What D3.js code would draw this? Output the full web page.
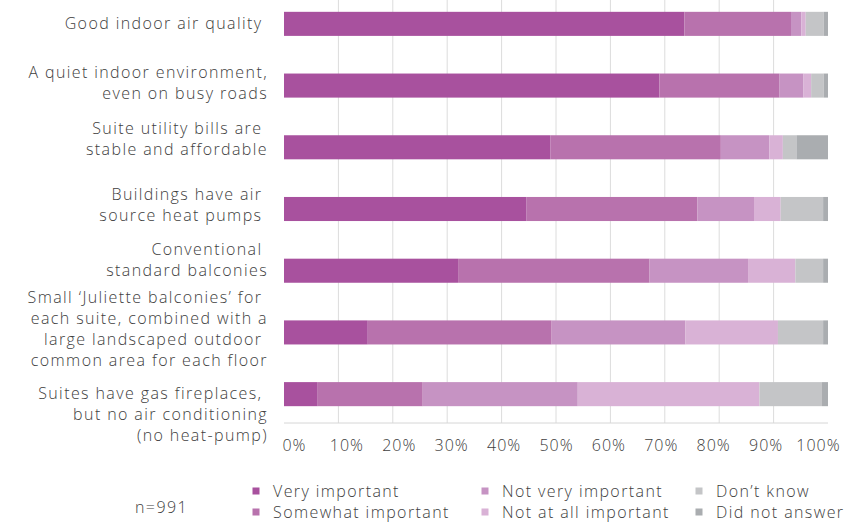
<!DOCTYPE html>
<html>
<head>
<meta charset="utf-8">
<script src="https://cdn.jsdelivr.net/npm/d3@7"></script>
<style>
  html, body { margin: 0; padding: 0; background: #ffffff; }
  svg { display: block; }
  text { font-family: "Open Sans", "DejaVu Sans", sans-serif; fill: #404040; font-weight: 300; letter-spacing: 1.4px; }
</style>
</head>
<body>
<svg id="chart" width="852" height="524"></svg>
<script>
// ---------- data ----------
const categories = [
  "Good indoor air quality",
  "A quiet indoor environment, even on busy roads",
  "Suite utility bills are stable and affordable",
  "Buildings have air source heat pumps",
  "Conventional standard balconies",
  "Small 'Juliette balconies' for each suite, combined with a large landscaped outdoor common area for each floor",
  "Suites have gas fireplaces, but no air conditioning (no heat-pump)"
];
const categoryLines = [
  ["Good indoor air quality "],
  ["A quiet indoor environment,", "even on busy roads"],
  ["Suite utility bills are ", "stable and affordable"],
  ["Buildings have air ", "source heat pumps "],
  ["Conventional ", "standard balconies"],
  ["Small \u2018Juliette balconies\u2019 for ", "each suite, combined with a", "large landscaped outdoor ", "common area for each floor"],
  ["Suites have gas fireplaces, ", "but no air conditioning", "(no heat-pump)"]
];
const seriesNames = ["Very important", "Somewhat important", "Not very important",
                     "Not at all important", "Don\u2019t know", "Did not answer"];
const veryImportant      = [73.6, 69.0, 49.0, 44.6, 32.0, 15.4,  6.2];
const somewhatImportant  = [19.6, 22.1, 31.3, 31.4, 35.2, 33.8, 19.3];
const notVeryImportant   = [ 1.9,  4.4,  8.9, 10.4, 18.1, 24.6, 28.5];
const notAtAllImportant  = [ 0.8,  1.4,  2.5,  4.9,  8.7, 17.0, 33.4];
const dontKnow           = [ 3.3,  2.3,  2.5,  7.8,  5.1,  8.3, 11.5];
const didNotAnswer       = [ 0.8,  0.8,  5.8,  0.9,  0.9,  0.9,  1.1];
const tickValues = [0, 10, 20, 30, 40, 50, 60, 70, 80, 90, 100];
const sampleNote = "n=991";

// ---------- styles / layout ----------
const colors = ["#a8519e", "#b872ad", "#c693c3", "#d9b2d6", "#c4c5c7", "#aaadb0"];
const labelNudge = [0, -2.5, -8.5, -4, -11, -4, 20]; // vertical offset of label block vs bar centre
const lineHeight = 21;

const seriesValues = [veryImportant, somewhatImportant, notVeryImportant,
                      notAtAllImportant, dontKnow, didNotAnswer];
const table = categories.map((c, i) => {
  const row = { category: c, idx: i };
  seriesNames.forEach((s, j) => row[s] = seriesValues[j][i]);
  return row;
});

const svg = d3.select("#chart");

const x = d3.scaleLinear().domain([0, 100]).range([284, 828]);
const xLabel = d3.scaleLinear().domain([0, 100]).range([294, 818]);
const y = d3.scaleBand().domain(categories).range([-7, 425])
  .paddingInner(0.61).paddingOuter(0.305);
const axisY = 423;

// gridlines
svg.append("g")
  .selectAll("line")
  .data(tickValues.filter(t => t > 0 && t < 100))
  .join("line")
  .attr("x1", d => x(d)).attr("x2", d => x(d))
  .attr("y1", 0).attr("y2", axisY)
  .attr("stroke", "#dcdcdc").attr("stroke-width", 1);

// axis baseline
svg.append("line")
  .attr("x1", x(0)).attr("x2", x(100))
  .attr("y1", axisY).attr("y2", axisY)
  .attr("stroke", "#d6d6d6").attr("stroke-width", 1);

// bars
const stack = d3.stack().keys(seriesNames);
const stacked = stack(table);
svg.append("g")
  .selectAll("g")
  .data(stacked)
  .join("g")
  .attr("fill", (d, i) => colors[i])
  .selectAll("rect")
  .data(d => d)
  .join("rect")
  .attr("x", d => x(d[0]))
  .attr("width", d => Math.max(0, x(d[1]) - x(d[0])))
  .attr("y", d => y(d.data.category))
  .attr("height", y.bandwidth());

// x axis labels
const xAxis = d3.axisBottom(xLabel).tickValues(tickValues)
  .tickFormat(d => d + "%").tickSize(0).tickPadding(0);
const gx = svg.append("g").attr("transform", `translate(0,${axisY + 17})`).call(xAxis);
gx.select(".domain").remove();
gx.selectAll("text")
  .attr("dy", "0.71em")
  .style("font-family", "'Open Sans', sans-serif")
  .style("font-size", "16px")
  .style("font-weight", 300)
  .style("letter-spacing", "1px")
  .attr("fill", "#404040");

// category labels
const labelG = svg.append("g");
categories.forEach((c, i) => {
  const lines = categoryLines[i];
  const cy = y(c) + y.bandwidth() / 2 + labelNudge[i];
  const top = cy - (lines.length - 1) * lineHeight / 2;
  const t = labelG.append("text")
    .attr("text-anchor", "end")
    .style("white-space", "pre")
    .style("font-size", "16px");
  lines.forEach((ln, k) => {
    t.append("tspan")
      .attr("x", 268)
      .attr("y", top + k * lineHeight)
      .attr("dy", "0.35em")
      .text(ln);
  });
});

// legend
const legendCols = [256, 485, 699];
const legendRows = [491, 512];
const lg = svg.append("g");
seriesNames.forEach((s, i) => {
  const cx = legendCols[Math.floor(i / 2)];
  const ry = legendRows[i % 2];
  lg.append("rect")
    .attr("x", cx - 3.5).attr("y", ry - 3.5)
    .attr("width", 7).attr("height", 7)
    .attr("fill", colors[i]);
  lg.append("text")
    .attr("x", cx + 17).attr("y", ry)
    .attr("dy", "0.35em")
    .style("font-size", "16px")
    .text(s);
});

svg.append("text")
  .attr("x", 135).attr("y", 507)
  .attr("dy", "0.35em")
  .style("font-size", "16px")
  .text(sampleNote);
</script>
</body>
</html>
